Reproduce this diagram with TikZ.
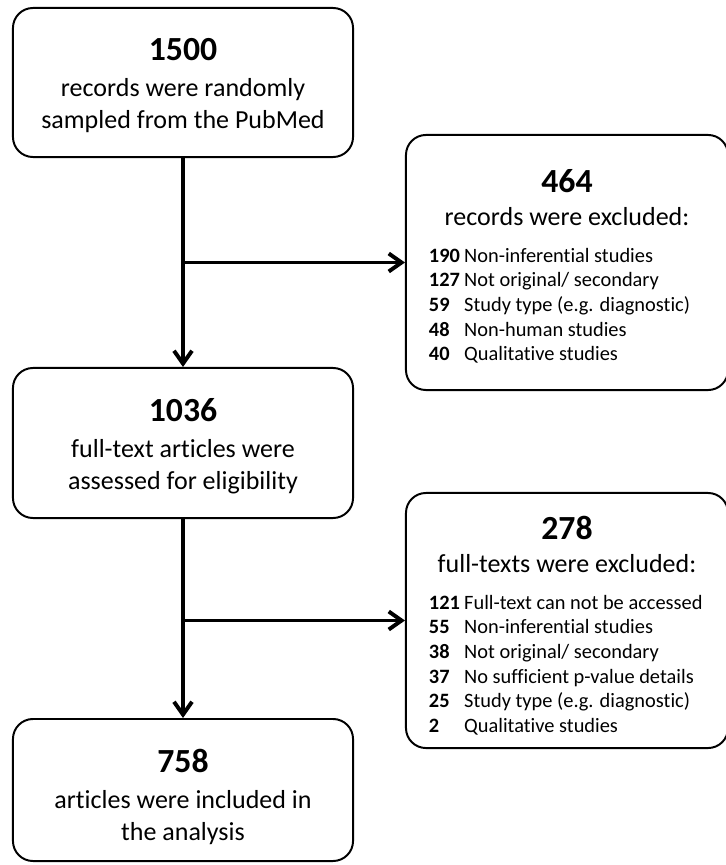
\documentclass[tikz,border=0pt]{standalone}
\usepackage{fontspec}
\setmainfont[Ligatures=NoCommon]{Carlito}
\usetikzlibrary{arrows.meta,positioning}

\newcommand{\numfont}{\fontsize{24}{30}\selectfont\bfseries}
\newcommand{\bodyfont}{\fontsize{18.5}{22.5}\selectfont}
\newcommand{\listfont}{\fontsize{14.5}{17.5}\selectfont}

\tikzset{
	box/.style={draw, line width=1.4pt, rounded corners=0.5cm, inner sep=0pt,
		align=center, font=\bodyfont, minimum width=8.5cm},
	exclbox/.style={box, minimum width=8.05cm, minimum height=6.375cm},
	flow/.style={line width=2.8pt, -{Straight Barb[length=0.32cm,width=0.45cm]}}
}

\begin{document}
\begin{tikzpicture}[x=0.025cm, y=0.025cm]
		\useasboundingbox (0,0) rectangle (725,-865);
		% main boxes
		\node[box, minimum height=3.725cm] (sampled) at (183,-82.5)
			{{\numfont\rule{0pt}{20pt}1500}\\[3.5pt] records were randomly\\ sampled from the PubMed};
		\node[box, minimum height=3.75cm] (assessed) at (183,-443)
			{{\numfont\rule{0pt}{21pt}1036}\\[3.5pt] full-text articles were\\ assessed for eligibility};
		\node[box, minimum height=3.55cm] (included) at (183,-790)
			{{\numfont\rule{0pt}{26pt}758}\\[3.5pt] articles were included in\\ the analysis};
		% excluded records
		\node[exclbox] (excl1) at (567,-262.5) {\begin{minipage}{6.9cm}
				\centering{\numfont\rule{0pt}{25pt}464}\\[1.5pt] records were excluded:\par
				\vspace{12.5pt}\raggedright\listfont
				\begin{tabular}{@{}l@{\hspace{3pt}}l@{}}
					\textbf{190} & Non-inferential studies\\
					\textbf{127} & Not original/ secondary\\
					\textbf{59} & Study type (e.g. diagnostic)\\
					\textbf{48} & Non-human studies\\
					\textbf{40} & Qualitative studies
				\end{tabular}
			\end{minipage}};
		% excluded full-texts
		\node[exclbox] (excl2) at (567,-620.5) {\begin{minipage}{6.9cm}
				\centering{\numfont\rule{0pt}{27pt}278}\\[1.5pt] full-texts were excluded:\par
				\vspace{12.5pt}\raggedright\listfont
				\begin{tabular}{@{}l@{\hspace{3pt}}l@{}}
					\textbf{121} & Full-text can not be accessed\\
					\textbf{55} & Non-inferential studies\\
					\textbf{38} & Not original/ secondary\\
					\textbf{37} & No sufficient p-value details\\
					\textbf{25} & Study type (e.g. diagnostic)\\
					\textbf{2} & Qualitative studies
				\end{tabular}
			\end{minipage}};
		% arrows
		\coordinate (split1) at (sampled.south |- excl1.west);
		\coordinate (split2) at (assessed.south |- excl2.west);
		\draw[flow] (sampled) -- (assessed);
		\draw[flow] (assessed) -- (included);
		\draw[flow] (split1) -- (excl1.west);
		\draw[flow] (split2) -- (excl2.west);
	\end{tikzpicture}
\end{document}
